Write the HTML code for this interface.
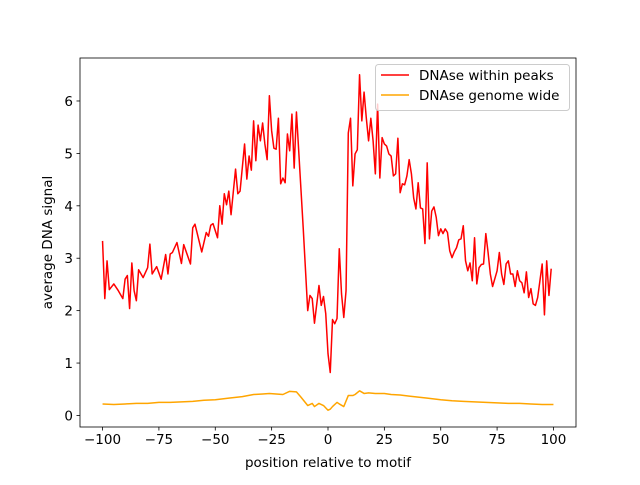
<!DOCTYPE html>
<html><head><meta charset="utf-8"><style>
body{margin:0;background:#fff}
svg text{font-family:"DejaVu Sans","Liberation Sans",sans-serif;font-size:13.5px;fill:#000}
</style></head><body>
<svg id="chart" width="640" height="480">
<rect width="640" height="480" fill="#fff"/>
<g id="plot"></g>
</svg>
<script>
const peakX=[-100,-99,-98,-97,-95,-93,-91,-90,-89,-88,-87,-86,-85,-84,-82,-80,-79,-78,-76,-74,-72,-71,-70,-69,-67,-65,-64,-61,-60,-59,-56,-54,-53,-52,-51,-49,-48,-47,-46,-45,-44,-43,-41,-40,-39,-37,-36,-35,-34,-33,-32,-31,-30,-29,-28,-27,-26,-25,-24,-23,-22,-21,-20,-19,-18,-17,-16,-15,-14,-11,-9,-8,-7,-6,-4,-3,-2,-1,0,1,2,3,4,5,6,7,8,9,10,11,12,13,14,15,16,17,18,19,20,21,22,23,24,25,26,27,28,29,30,31,32,33,34,35,36,37,38,39,40,41,42,43,44,45,46,47,48,49,50,51,52,53,54,55,56,57,58,59,60,61,62,63,64,65,66,67,68,69,70,71,72,73,75,76,77,78,79,80,81,82,83,84,85,86,87,88,89,90,91,92,93,94,95,96,97,98,99];
const peakY=[3.33,2.23,2.95,2.4,2.51,2.38,2.23,2.6,2.67,2.04,2.91,2.38,2.19,2.78,2.63,2.82,3.27,2.7,2.84,2.6,3.07,2.7,3.08,3.11,3.3,2.9,3.26,2.89,3.58,3.65,3.12,3.49,3.42,3.63,3.66,3.39,4.0,3.65,4.23,4.02,4.28,3.83,4.7,4.23,4.28,5.18,4.51,4.95,4.68,5.62,4.86,5.54,5.24,5.58,5.18,4.88,6.1,5.43,5.1,5.08,5.67,4.42,4.53,4.44,5.37,5.05,5.75,4.72,5.79,3.58,2.0,2.29,2.23,1.76,2.48,2.1,2.27,1.94,1.18,0.82,1.83,1.75,1.85,3.18,2.32,1.87,2.38,5.39,5.67,4.38,4.99,5.07,6.5,5.62,6.17,5.67,5.24,5.67,5.24,4.61,5.94,4.53,5.3,5.18,5.14,4.99,4.95,4.57,4.61,5.29,4.25,4.42,4.4,4.57,4.88,4.61,4.15,3.94,4.44,3.96,3.94,3.28,4.82,3.37,3.9,3.98,3.78,3.43,3.56,3.47,3.56,3.49,3.14,3.01,3.12,3.2,3.35,3.37,3.62,2.95,2.76,2.91,2.57,3.39,2.51,2.82,2.88,2.89,3.47,3.11,2.7,2.46,2.76,3.11,2.7,2.5,2.89,2.95,2.7,2.7,2.46,2.76,2.57,2.53,2.34,2.74,2.25,2.42,2.13,2.1,2.25,2.57,2.89,1.92,2.95,2.29,2.8,2.61];
const gwX=[-100,-95,-90,-85,-80,-75,-70,-65,-60,-55,-50,-44,-38,-33,-29,-26,-23,-20,-17,-14,-12,-9,-7,-6,-4,-2,0,1,2,4,5,7,9,11,12,14,16,18,21,25,28,32,36,40,44,50,55,60,65,70,75,80,85,90,95,100];
const gwY=[0.22,0.21,0.22,0.23,0.23,0.25,0.25,0.26,0.27,0.29,0.3,0.33,0.36,0.4,0.41,0.42,0.41,0.4,0.46,0.45,0.35,0.19,0.23,0.17,0.23,0.19,0.1,0.12,0.17,0.25,0.22,0.17,0.38,0.38,0.4,0.47,0.42,0.43,0.42,0.42,0.4,0.39,0.37,0.35,0.33,0.3,0.28,0.27,0.26,0.25,0.24,0.23,0.23,0.22,0.21,0.21];
const xTicks=[-100,-75,-50,-25,0,25,50,75,100];
const yTicks=[0,1,2,3,4,5,6];
const L=80,R=576,T=58,B=427,xmin=-110,xmax=110,ymin=-0.22,ymax=6.82;
const sx=v=>L+(v-xmin)/(xmax-xmin)*(R-L);
const sy=v=>B-(v-ymin)/(ymax-ymin)*(B-T);
const NS='http://www.w3.org/2000/svg';
const g=document.getElementById('plot');
function mk(t,a,p){const e=document.createElementNS(NS,t);for(const k in a)e.setAttribute(k,a[k]);(p||g).appendChild(e);return e;}
function line(xs,ys,color,name){
  const d=xs.map((x,i)=>(i?'L':'M')+sx(x).toFixed(2)+','+sy(ys[i]).toFixed(2)).join('');
  const p=mk('path',{d:d,fill:'none',stroke:color,'stroke-width':1.5,'stroke-linejoin':'round'});
  
  
}
line(gwX,gwY,'#ffa500','series-genome-wide');
line(peakX,peakY,'#ff0000','series-within-peaks');
const frame=mk('rect',{x:L,y:T,width:R-L,height:B-T,fill:'none',stroke:'#000','stroke-width':0.8});


xTicks.forEach(v=>{
  const x=sx(v);
  mk('line',{x1:x,x2:x,y1:B,y2:B+3.5,stroke:'#000','stroke-width':0.8});
  const t=mk('text',{x:x,y:B+17,'text-anchor':'middle'});t.textContent=v<0?'\u2212'+(-v):v;
  
  
});
yTicks.forEach(v=>{
  const y=sy(v);
  mk('line',{x1:L-3.5,x2:L,y1:y,y2:y,stroke:'#000','stroke-width':0.8});
  const t=mk('text',{x:L-7,y:y+5,'text-anchor':'end'});t.textContent=v;
  
  
});
const xl=mk('text',{x:(L+R)/2,y:467,'text-anchor':'middle'});xl.textContent='position relative to motif';


const yl=mk('text',{x:0,y:0,'text-anchor':'middle',transform:'translate(52,'+((T+B)/2)+') rotate(-90)'});yl.textContent='average DNA signal';


const lg=mk('g',{});


mk('rect',{x:375.5,y:64.5,width:194,height:46,rx:3,fill:'#fff','fill-opacity':0.8,stroke:'#ccc'},lg);
[['DNAse within peaks','#ff0000',79],['DNAse genome wide','#ffa500',99]].forEach(([s,c,y])=>{
  mk('line',{x1:381,x2:409,y1:y-4,y2:y-4,stroke:c,'stroke-width':1.5},lg);
  const t=mk('text',{x:419,y:y+1},lg);t.textContent=s;
  
  
});
</script>
</body></html>
